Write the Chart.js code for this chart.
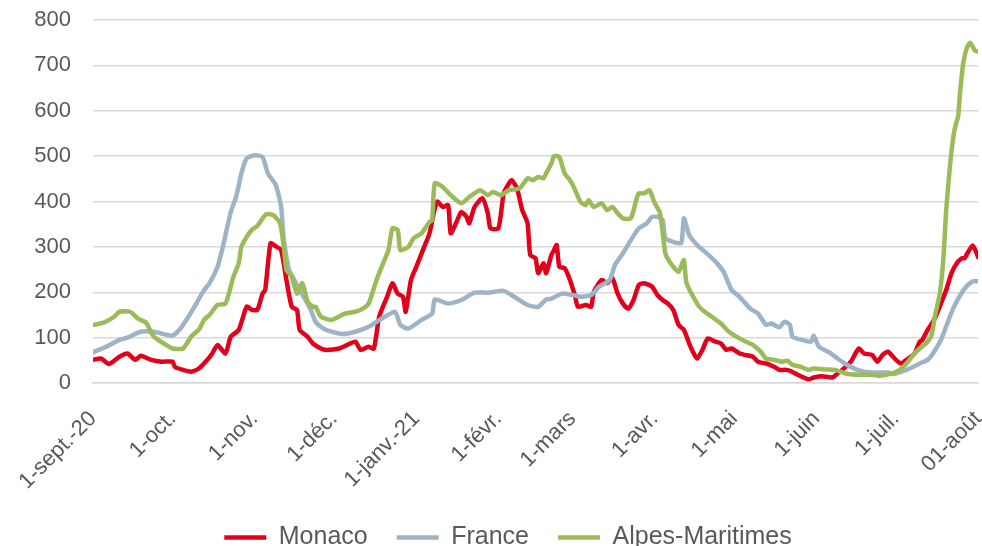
<!DOCTYPE html>
<html>
<head>
<meta charset="utf-8">
<script src="https://cdn.jsdelivr.net/npm/chart.js@4"></script>
<style>
  html, body { margin: 0; padding: 0; background: #fff; }
  #wrap { width: 982px; height: 546px; }
</style>
</head>
<body>
<div id="wrap"><canvas id="chart" width="982" height="546"></canvas></div>
<script>
// days counted from 1 Sept 2020
const monthDays = [0, 30, 61, 91, 122, 153, 181, 212, 242, 273, 303, 334];
const monthLabels = ['1-sept.-20', '1-oct.', '1-nov.', '1-déc.', '1-janv.-21', '1-févr.', '1-mars', '1-avr.', '1-mai', '1-juin', '1-juil.', '01-août'];

const monacoDays = [0,3,6,10,13,16,18,22,26,30,31,37,40,43,45,47,50,52,55,58,60,62,64,65,67,69,71,73,75,77,78,81,83,86,88,93,96,99,101,104,106,108,111,113,115,117,118,120,122,125,127,129,130,132,134,135,137,139,141,142,144,147,149,150,153,155,157,158,160,162,164,165,167,168,170,171,173,174,175,176,178,180,182,183,186,188,189,192,194,196,198,200,202,204,206,208,211,213,215,217,219,221,223,225,227,228,230,232,235,237,239,241,244,246,249,251,254,257,259,261,263,266,270,272,275,279,281,283,286,289,291,294,296,298,300,303,305,307,310,312,313,315,317,318,320,322,324,326,328,329,330,332,333.5,334];
const monacoValues = [51,54,42,58,65,51,60,51,47,47,35,25,32,50,65,84,65,102,117,168,161,161,197,205,308,301,293,227,168,161,117,102,87,76,73,76,84,91,73,80,76,146,190,220,197,190,157,227,256,300,330,385,400,388,392,330,352,377,366,352,388,407,374,341,341,418,440,447,429,381,352,282,275,242,264,242,282,293,304,256,253,227,190,168,172,168,201,227,220,231,197,175,164,183,216,220,212,194,183,175,161,128,117,87,62,54,73,98,91,87,73,76,65,62,58,47,43,36,29,29,27,18,8,12,15,12,21,30,47,76,65,62,47,62,69,51,43,51,65,91,95,117,135,146,175,205,242,264,275,275,286,303,286,278];

const franceDays = [0,5,10,13,18,23,28,30,33,36,39,40,42,44,47,49,52,54,56,58,61,64,66,69,71,72,73,74,76,78,81,82.5,84,86,88,94,99,104,109,114,116,119,124,128,129,134,139,144,149,155,159,164,168,171,173,177,181,184,188,191,195,197,200,203,206,209,211,213,215,216,219,222,223,225,228,231,235,238,241,244,248,251,254,256,259,261,263,264,267,271,272,274,278,281,284,288,291,296,300,302,307,312,315,317,320,322,324,326,328,330,332,334];
const franceValues = [68,80,95,100,113,113,106,104,120,146,175,186,205,220,256,300,377,410,462,495,502,498,462,436,388,315,278,249,227,205,175,157,135,124,117,108,113,124,142,157,128,120,139,153,184,175,183,199,199,203,190,172,168,184,186,197,194,190,194,212,227,260,286,315,341,352,366,366,359,319,311,308,363,326,304,289,267,245,205,190,164,153,128,131,123,135,128,102,96,91,104,80,67,54,42,30,25,23,23,20,29,43,51,65,95,125,155,180,200,215,224,224];

const alpesDays = [0,4,8,10,14,17,20,23,27,30,34,37,40,42,44,47,50,53,55,56,58,60,62,64,65.5,68,70.6,72,73,75,77,79,81,83,84,86,90,95,99,101,104,107,110,111.5,113,115,116,119,121,124,127,128,129,132,135,139,142,146,149,151,154,157,161,164,166,168,170,171,173,174,176,178,180,182,184,186,187,189,192,194,196,198,200,203,205,206,208,210,212,214,216,218,221,223,224,228,230,233.5,237,240,245,249,252,254,257,260,262,264,267,270,272,276,280,284,289,294,297,301,304,307,310,312,315,316.5,317.7,319.6,320.9,322,323.4,324.7,325.7,326.5,327.2,328.4,329.7,331,332.8,334];
const alpesValues = [128,133,146,157,157,142,133,102,86,76,76,102,118,140,150,172,175,234,264,300,322,338,346,363,372,370,352,300,249,234,197,220,179,168,168,146,139,153,157,161,175,227,271,293,341,337,293,300,319,330,355,359,440,432,414,396,410,425,414,421,414,425,429,451,447,454,451,462,484,500,498,462,447,425,399,392,403,388,396,381,388,374,363,363,403,418,418,425,396,375,286,264,245,271,220,175,161,146,131,113,95,84,69,54,51,47,49,40,36,29,32,30,29,21,18,18,16,20,27,43,65,76,91,106,146,198,271,381,477,543,572,587,638,704,737,750,733,730];

const yTicks = [0, 100, 200, 300, 400, 500, 600, 700, 800];

const FONT = '"Liberation Sans", Arial, Helvetica, sans-serif';
const TEXT = '#595959';
const GRID = '#d9d9d9';

function toPoints(days, values) {
  return days.map((d, i) => ({ x: d, y: values[i] }));
}

function series(label, days, values, color, order) {
  return {
    label: label,
    data: toPoints(days, values),
    borderColor: color,
    backgroundColor: color,
    borderWidth: 4.5,
    pointRadius: 0,
    tension: 0.2,
    borderCapStyle: 'round',
    borderJoinStyle: 'round',
    order: order
  };
}

// nudge the legend a bit to the right, like in the original
const legendShift = {
  id: 'legendShift',
  afterLayout(chart) {
    chart.legend.left += 19;
    chart.legend.right += 19;
  }
};

new Chart(document.getElementById('chart'), {
  type: 'line',
  data: {
    datasets: [
      series('Monaco', monacoDays, monacoValues, '#e3001b', 3),
      series('France', franceDays, franceValues, '#9eb3c6', 2),
      series('Alpes-Maritimes', alpesDays, alpesValues, '#9bbb59', 1)
    ]
  },
  plugins: [legendShift],
  options: {
    responsive: false,
    animation: false,
    devicePixelRatio: 1,
    layout: { padding: { left: 0, right: 4, top: 20, bottom: -14 } },
    plugins: {
      tooltip: { enabled: false },
      legend: {
        position: 'bottom',
        labels: {
          font: { family: FONT, size: 25 },
          color: TEXT,
          usePointStyle: true,
          pointStyle: 'line',
          pointStyleWidth: 42,
          padding: 29,
          sort: (a, b) => a.datasetIndex - b.datasetIndex
        }
      }
    },
    scales: {
      x: {
        type: 'linear',
        min: 0,
        max: 334,
        afterBuildTicks: (scale) => {
          scale.ticks = monthDays.map(v => ({ value: v }));
        },
        afterFit: (scale) => {
          scale.height = 113;
          // keep the rotated labels from shrinking the plot area
          scale.paddingLeft = 0;
          scale.paddingRight = 0;
        },
        grid: { display: false, drawTicks: false },
        border: { display: true, color: GRID, width: 1.5 },
        ticks: {
          autoSkip: false,
          minRotation: 45,
          maxRotation: 45,
          padding: 23,
          labelOffset: 0,
          color: TEXT,
          font: { family: FONT, size: 22 },
          callback: (value, index) => monthLabels[index]
        }
      },
      y: {
        min: 0,
        max: 800,
        afterBuildTicks: (scale) => {
          scale.ticks = yTicks.map(v => ({ value: v }));
        },
        afterFit: (scale) => {
          scale.width = 93;
          scale.paddingTop = 0;
          scale.paddingBottom = 0;
        },
        grid: { color: GRID, lineWidth: 1.5, drawTicks: false },
        border: { display: false },
        ticks: {
          padding: 22,
          color: TEXT,
          font: { family: FONT, size: 22 }
        }
      }
    }
  }
});
</script>
</body>
</html>
